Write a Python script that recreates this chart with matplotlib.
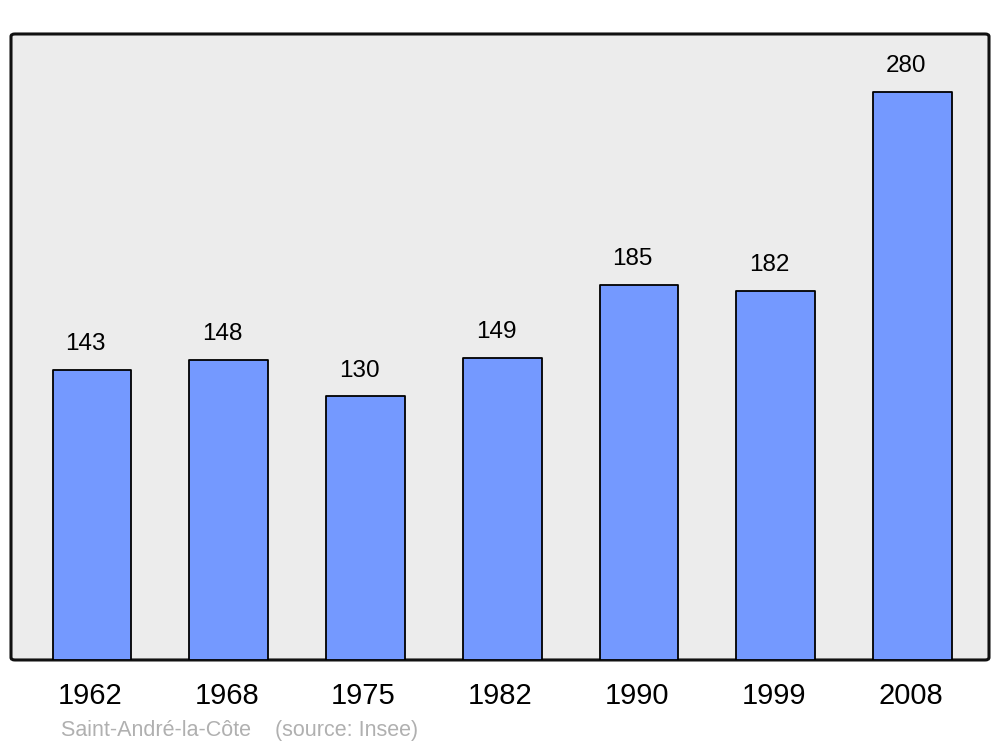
import matplotlib.pyplot as plt
from matplotlib.patches import FancyBboxPatch

plt.rcParams['font.family'] = ['Liberation Sans', 'DejaVu Sans']

annees = ['1962', '1968', '1975', '1982', '1990', '1999', '2008']
population = [143, 148, 130, 149, 185, 182, 280]

fig = plt.figure(figsize=(10, 7.47), dpi=100)
ax = fig.add_axes([0.011, 0.1165, 0.978, 0.838])

x = range(len(annees))
ax.bar(x, population, width=0.575, color='#7499ff', edgecolor='black',
       linewidth=1.3, joinstyle='round', zorder=2)

for xi, v in zip(x, population):
    ax.annotate(str(v), (xi, v), xytext=(-4.5, 10.5), textcoords='offset points',
                ha='center', va='bottom', fontsize=17.5)

ax.set_xlim(-0.592, 6.559)
ax.set_ylim(0, 308.6)
ax.set_xticks([xi - 0.015 for xi in x])
ax.set_xticklabels(annees, fontsize=21)
ax.tick_params(axis='x', length=0, pad=16)
ax.set_yticks([])
for s in ax.spines.values():
    s.set_visible(False)
ax.patch.set_visible(False)

cadre = FancyBboxPatch((0, 0), 1, 1, boxstyle='round,pad=0,rounding_size=0.004',
                       transform=ax.transAxes, facecolor='#ececec',
                       edgecolor='#111111', linewidth=2.2, zorder=0, clip_on=False)
ax.add_patch(cadre)

fig.text(0.061, 0.008, 'Saint-André-la-Côte    (source: Insee)', fontsize=15.5,
         color='#b0b0b0', ha='left', va='bottom')

fig.savefig('out.png', dpi=100)
